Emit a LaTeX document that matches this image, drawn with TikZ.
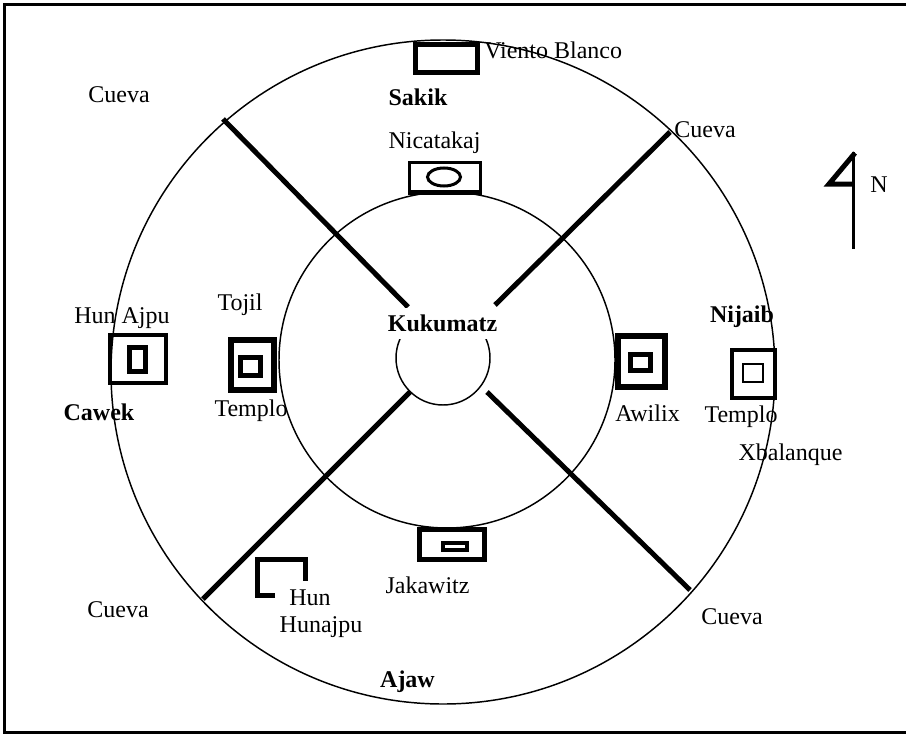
\documentclass[tikz,border=0pt]{standalone}
\usepackage{fontspec}
\setmainfont{Liberation Serif}
\begin{document}
\begin{tikzpicture}[x=0.75pt,y=-0.75pt,
  lbl/.style={anchor=base,inner sep=0pt,font=\fontsize{18}{21}\selectfont},
  blbl/.style={lbl,font=\fontsize{18}{21}\selectfont\bfseries},
  ring/.style={line width=1.1pt},
  axisline/.style={line width=3.75pt},
  frameline/.style={line width=2.25pt}]
\useasboundingbox (0,0) rectangle (906,735);
% frame
\draw[frameline] (906,5) -- (4,5) -- (4,732) -- (906,732);
% circles
\coordinate (c0) at (443,372);
\coordinate (c1) at (447,360);
\coordinate (c2) at (443,358);
\draw[ring] (c0) circle (332);
\draw[ring] (c1) circle (168);
\draw[ring] (c2) circle (47);
% radial lines
\coordinate (nwA) at (223,119); \coordinate (nwB) at (408,307);
\coordinate (neA) at (670,132); \coordinate (neB) at (495,305);
\coordinate (swA) at (203,599); \coordinate (swB) at (410,392);
\coordinate (seA) at (690,590); \coordinate (seB) at (487,392);
\draw[axisline] (nwA) -- (nwB);
\draw[axisline] (neA) -- (neB);
\draw[axisline] (swB) -- (swA);
\draw[axisline] (seB) -- (seA);
% Sakik box
\draw[line width=3.75pt] (415.5,44.5) rectangle (477.5,72.5);
% Nicatakaj box
\draw[line width=2.25pt] (409.5,162.5) rectangle (480.5,193);
\draw[line width=3.75pt] (408,192.5) -- (482,192.5);
\draw[line width=2.25pt] (444,177) ellipse (16.5 and 9);
% Hun Ajpu box
\draw[line width=3pt] (110,335) rectangle (166,383);
\draw[line width=3.75pt] (129.5,347.5) rectangle (145.5,371.5);
% Tojil box
\draw[line width=4.5pt] (231,340) rectangle (274,390);
\draw[line width=3.75pt] (240.5,357.5) rectangle (260.5,375.5);
% Awilix box
\draw[line width=4.5pt] (618,336) rectangle (665,387);
\draw[line width=3.75pt] (630.5,354.5) rectangle (650.5,370.5);
% right Templo box
\draw[line width=3pt] (732,350) rectangle (775,398);
\draw[line width=1.5pt] (743,364) rectangle (763,382);
% Jakawitz box
\draw[line width=3.75pt] (419.5,529.5) rectangle (484.5,559.5);
\draw[line width=3pt] (443,543) rectangle (467,550);
% Hun Hunajpu bracket
\draw[line width=3.75pt,line join=miter] (275,595) -- (257.5,595) -- (257.5,559.5) -- (305.5,559.5) -- (305.5,581);
% North arrow
\draw[line width=2.25pt] (853,152) -- (853,249);
\draw[line width=3.75pt,line join=miter] (855,153) -- (829,184) -- (853,184);
% labels
\node[lbl] (cuevaNW) at (119,103) {Cueva};
\node[blbl] (sakik) at (418,105) {Sakik};
\node[lbl,anchor=base west] (viento) at (484,59) {Viento Blanco};
\node[lbl] (cuevaNE) at (705,137) {Cueva};
\node[lbl] (nicatakaj) at (434.5,148) {Nicatakaj};
\node[lbl] (north) at (879,192) {N};
\node[lbl] (hunajpuT) at (122,323) {Hun Ajpu};
\node[blbl] (cawek) at (99,420) {Cawek};
\node[lbl] (tojil) at (240,310) {Tojil};
\node[lbl] (temploL) at (251,416) {Templo};
\node[blbl,fill=white,text height=16pt,text depth=5pt,inner xsep=1pt,inner ysep=1pt] (kukumatz) at (442.5,331) {Kukumatz};
\node[blbl] (nijaib) at (742,322) {Nijaib};
\node[lbl] (awilix) at (647.5,421) {Awilix};
\node[lbl] (temploR) at (741,422) {Templo};
\node[lbl] (xbalanque) at (790.5,460) {Xbalanque};
\node[lbl] (jakawitz) at (427.5,593) {Jakawitz};
\node[lbl] (hun) at (310,605) {Hun};
\node[lbl] (hunajpu) at (321,632) {Hunajpu};
\node[blbl] (ajaw) at (407.5,687) {Ajaw};
\node[lbl] (cuevaSW) at (118,617) {Cueva};
\node[lbl] (cuevaSE) at (732,624) {Cueva};
\end{tikzpicture}
\end{document}
